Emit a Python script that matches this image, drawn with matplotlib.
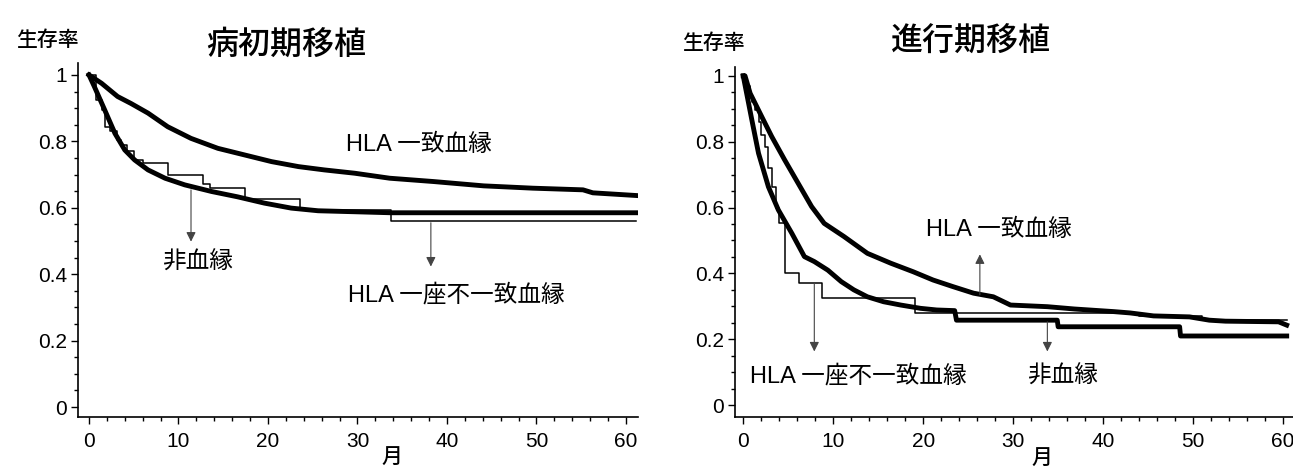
import matplotlib
matplotlib.use("Agg")
import matplotlib.pyplot as plt
from matplotlib.ticker import MultipleLocator

plt.rcParams['font.family'] = ['Liberation Sans', 'Noto Sans CJK JP', 'DejaVu Sans']

# ---- data (months, survival) ----
# early-stage transplant (left)
early_match_t = [0, 1.4, 3.2, 4.7, 6.6, 8.8, 11.4, 14.4, 17.4, 20.4, 23.4, 26.3, 29.7,
                 33.6, 38.5, 44.1, 49.6, 55.2, 56.3, 61.1]
early_match_s = [1.0, 0.975, 0.935, 0.914, 0.885, 0.844, 0.809, 0.779, 0.759, 0.739, 0.724,
                 0.714, 0.704, 0.689, 0.679, 0.666, 0.659, 0.654, 0.645, 0.637]
early_unrel_t = [0, 0.6, 1.75, 2.9, 4.0, 5.1, 6.6, 8.5, 10.7, 13.7, 16.6, 19.6, 22.6, 25.6,
                 29.7, 33.7, 61.1]
early_unrel_s = [1.0, 0.965, 0.895, 0.824, 0.774, 0.744, 0.714, 0.689, 0.669, 0.649, 0.633,
                 0.614, 0.599, 0.591, 0.588, 0.585, 0.585]
early_mis_t = [0, 0.8, 1.4, 1.75, 2.3, 3.1, 3.6, 4.3, 5.0, 6.0, 8.8, 12.7, 13.5, 17.4, 23.6,
               33.7, 61.1]
early_mis_s = [1.0, 0.925, 0.895, 0.844, 0.83, 0.804, 0.789, 0.77, 0.745, 0.734, 0.699, 0.672,
               0.659, 0.626, 0.594, 0.561, 0.561]

# advanced-stage transplant (right)
adv_match_t = [0, 0.2, 0.77, 2.06, 3.16, 4.6, 6.1, 7.6, 9.0, 11.2, 13.8, 16.4, 18.9, 21.1,
               23.3, 25.6, 27.8, 29.7, 33.8, 36.8, 41.2, 43.0, 45.6, 49.6, 51.8, 53.6, 59.5,
               60.4]
adv_match_s = [1.0, 1.0, 0.947, 0.876, 0.816, 0.745, 0.674, 0.603, 0.552, 0.512, 0.461, 0.431,
               0.405, 0.38, 0.36, 0.34, 0.329, 0.304, 0.299, 0.292, 0.284, 0.28, 0.271, 0.268,
               0.258, 0.255, 0.253, 0.243]
adv_unrel_t = [0, 0.96, 1.7, 2.8, 3.9, 5.4, 6.8, 7.9, 9.4, 10.9, 12.3, 13.8, 15.6, 17.5, 19.7,
               21.5, 23.5, 23.7, 34.9, 35.0, 48.5, 48.6, 60.4]
adv_unrel_s = [1.0, 0.866, 0.765, 0.663, 0.593, 0.522, 0.451, 0.436, 0.41, 0.375, 0.35, 0.329,
               0.314, 0.304, 0.294, 0.289, 0.287, 0.258, 0.258, 0.238, 0.238, 0.21, 0.21]
adv_mis_t = [0, 0.3, 0.7, 1.0, 1.3, 1.7, 2.0, 2.4, 2.8, 3.2, 3.6, 4.0, 4.6, 6.2, 8.8, 19.1,
             44.0, 51.0, 60.4]
adv_mis_s = [1.0, 0.97, 0.94, 0.92, 0.897, 0.86, 0.82, 0.785, 0.72, 0.663, 0.6, 0.553, 0.401,
             0.371, 0.325, 0.281, 0.27, 0.26, 0.26]

yticks = [0, 0.2, 0.4, 0.6, 0.8, 1]
ytick_labels = ["0", "0.2", "0.4", "0.6", "0.8", "1"]
xticks = [0, 10, 20, 30, 40, 50, 60]

# arrows: (x, tail y, head y)
early_arrows = [(11.4, 0.654, 0.498), (38.2, 0.555, 0.423)]
adv_arrows = [(7.9, 0.37, 0.163), (33.8, 0.253, 0.163), (26.3, 0.335, 0.458)]

# labels: (text, x, y)
early_labels = [("HLA 一致血縁", 28.7, 0.789), ("非血縁", 8.2, 0.434),
                ("HLA 一座不一致血縁", 28.9, 0.337)]
adv_labels = [("HLA 一致血縁", 20.3, 0.532), ("HLA 一座不一致血縁", 0.7, 0.088),
              ("非血縁", 31.5, 0.088)]

fig = plt.figure(figsize=(12.93, 4.69), dpi=100)
axL = fig.add_axes([0.0603, 0.1109, 0.4331, 0.7548])
axR = fig.add_axes([0.5684, 0.1109, 0.4316, 0.7463])


def style_axis(ax, xlim, ylim):
    ax.set_xlim(*xlim)
    ax.set_ylim(*ylim)
    for s in ["top", "right"]:
        ax.spines[s].set_visible(False)
    for s in ["left", "bottom"]:
        ax.spines[s].set_linewidth(1.2)
    ax.set_yticks(yticks)
    ax.set_yticklabels(ytick_labels)
    ax.set_xticks(xticks)
    ax.xaxis.set_minor_locator(MultipleLocator(2))
    ax.yaxis.set_minor_locator(MultipleLocator(0.05))
    ax.tick_params(which="major", direction="out", length=5, width=1, labelsize=15)
    ax.tick_params(which="minor", direction="out", length=3, width=1)
    ax.tick_params(axis="y", pad=3)
    ax.tick_params(axis="x", pad=6)


def draw(ax, match, unrel, mis, arrows, labels):
    ax.plot(mis[0], mis[1], drawstyle="steps-post", color="black", lw=1.1)
    ax.plot(unrel[0], unrel[1], color="black", lw=3.5, solid_joinstyle="round")
    ax.plot(match[0], match[1], color="black", lw=3.5, solid_joinstyle="round")
    for x, y0, y1 in arrows:
        ax.annotate("", xy=(x, y1), xytext=(x, y0),
                    arrowprops=dict(arrowstyle="-|>", color="#444444", lw=0.8,
                                    mutation_scale=14, shrinkA=0, shrinkB=0))
    for text, x, y in labels:
        ax.text(x, y, text, fontsize=17, va="center", ha="left")


draw(axL, (early_match_t, early_match_s), (early_unrel_t, early_unrel_s),
     (early_mis_t, early_mis_s), early_arrows, early_labels)
draw(axR, (adv_match_t, adv_match_s), (adv_unrel_t, adv_unrel_s),
     (adv_mis_t, adv_mis_s), adv_arrows, adv_labels)
style_axis(axL, (-1.23, 61.34), (-0.030, 1.036))
style_axis(axR, (-0.92, 61.1), (-0.036, 1.027))

fig.text(0.221, 0.904, "病初期移植", fontsize=23, ha="center", va="center", fontweight="medium")
fig.text(0.751, 0.908, "進行期移植", fontsize=23, ha="center", va="center", fontweight="medium")
fig.text(0.037, 0.915, "生存率", fontsize=15, ha="center", va="center", fontweight="medium")
fig.text(0.552, 0.908, "生存率", fontsize=15, ha="center", va="center", fontweight="medium")
fig.text(0.303, 0.022, "月", fontsize=15, ha="center", va="center", fontweight="medium")
fig.text(0.806, 0.020, "月", fontsize=15, ha="center", va="center", fontweight="medium")

fig.savefig("out.png", dpi=100)
